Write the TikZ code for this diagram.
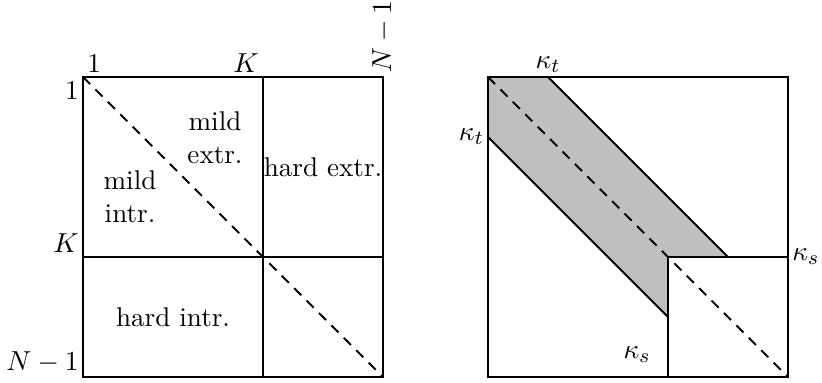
\documentclass[tikz,border=0pt]{standalone}
\begin{document}
\begin{tikzpicture}[x=0.014cm,y=-0.014cm,
  every node/.style={font=\fontsize{10.8}{13}\selectfont},
  frame/.style={line width=0.8pt},
  diag/.style={line width=0.8pt,dash pattern=on 4pt off 3pt},
  lab/.style={inner sep=1.5pt},
  region/.style={align=center,inner sep=0pt}]
\useasboundingbox (0,0) rectangle (822,383);
% ---- left matrix ----
\coordinate (LA) at (83,77);
\coordinate (LB) at (383,377);
\coordinate (LKt) at (263,77);
\coordinate (LKb) at (263,377);
\coordinate (LKl) at (83,257);
\coordinate (LKr) at (383,257);
\coordinate (LTR) at (383,77);
\coordinate (LBL) at (83,377);
\draw[frame] (LA) rectangle (LB);
\draw[frame] (LKt) -- (LKb);
\draw[frame] (LKl) -- (LKr);
\draw[diag] (LA) -- (LB);
\node[lab,anchor=south west] (c1) at (LA) {1};
\node[lab,anchor=south east] (cK) at (LKt) {$K$};
\node[lab,anchor=west,rotate=90] (cN) at (LTR) {$N-1$};
\node[lab,anchor=north east] (r1) at (LA) {1};
\node[lab,anchor=south east] (rK) at (LKl) {$K$};
\node[lab,anchor=south east] (rN) at (LBL) {$N-1$};
\node[region] (me) at (215,138) {mild\\extr.};
\node[region] (mi) at (130,197) {mild\\intr.};
\node[region] (he) at (323,167) {hard extr.};
\node[region] (hi) at (173,317) {hard intr.};
% ---- right matrix ----
\coordinate (RA) at (488,77);
\coordinate (RB) at (788,377);
\coordinate (Rt) at (548,77);
\coordinate (Rl) at (488,137);
\coordinate (Ru) at (728,257);
\coordinate (Rc) at (668,257);
\coordinate (Rd) at (668,317);
\coordinate (Rr) at (788,257);
\coordinate (Rbot) at (668,377);
\fill[lightgray] (RA) -- (Rt) -- (Ru) -- (Rc) -- (Rd) -- (Rl) -- cycle;
\draw[frame] (RA) rectangle (RB);
\draw[frame] (Rt) -- (Ru);
\draw[frame] (Rl) -- (Rd);
\draw[frame] (Rc) rectangle (RB);
\draw[diag] (RA) -- (RB);
\node[lab,anchor=south] (kt1) at (Rt) {$\kappa_t$};
\node[lab,anchor=east] (kt2) at (Rl) {$\kappa_t$};
\node[lab,anchor=west] (ks1) at (Rr) {$\kappa_s$};
\node[lab] (ks2) at (637,355) {$\kappa_s$};
\end{tikzpicture}
\end{document}
